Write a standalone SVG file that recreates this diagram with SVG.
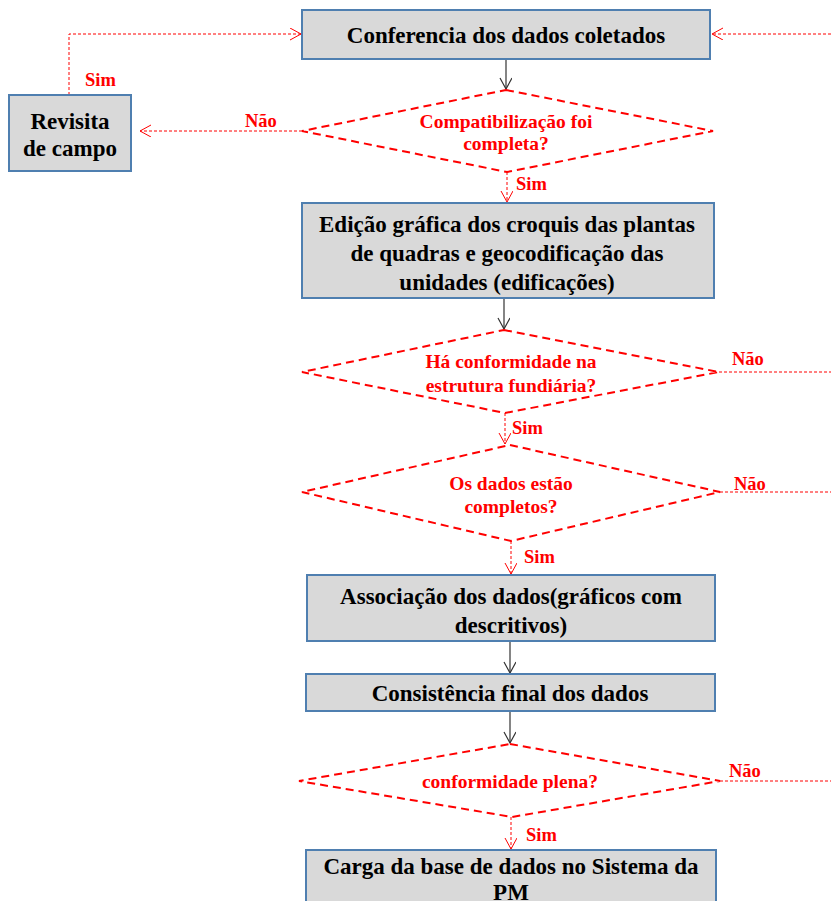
<svg xmlns="http://www.w3.org/2000/svg" width="831" height="901" viewBox="0 0 831 901">
<defs>
<style>
.box{fill:#d9d9d9;stroke:#4f7fb0;stroke-width:2}
.dia{fill:none;stroke:#ff0000;stroke-width:2;stroke-dasharray:8,5}
.bt{font-family:"Liberation Serif",serif;font-weight:bold;font-size:23px;fill:#000;text-anchor:middle}
.dt{font-family:"Liberation Serif",serif;font-weight:bold;font-size:19.5px;fill:#ff0000;text-anchor:middle}
.lb{font-family:"Liberation Serif",serif;font-weight:bold;font-size:18.5px;fill:#ff0000}
.solid{stroke:#333;stroke-width:1.2;fill:none}
.dash{stroke:#ff0000;stroke-width:1;stroke-dasharray:3,2;fill:none}
</style>
<marker id="ab" markerUnits="userSpaceOnUse" markerWidth="14" markerHeight="14" refX="12" refY="6" orient="auto"><path d="M1,0 L12,6 L1,12" fill="none" stroke="#333" stroke-width="1.2"/></marker>
<marker id="ar" markerUnits="userSpaceOnUse" markerWidth="14" markerHeight="14" refX="12" refY="6" orient="auto"><path d="M1,0 L12,6 L1,12" fill="none" stroke="#ff0000" stroke-width="1"/></marker>
</defs>

<g id="connectors">
<path class="solid" d="M506,59 V89" marker-end="url(#ab)"/>
<path class="dash" d="M69,95 V34 H301" marker-end="url(#ar)"/>
<path class="dash" d="M831,34 H712" marker-end="url(#ar)"/>
<path class="dash" d="M302,131 H140" marker-end="url(#ar)"/>
<path class="dash" d="M507,172 V202" marker-end="url(#ar)"/>
<path class="solid" d="M504,298 V329" marker-end="url(#ab)"/>
<path class="dash" d="M719,372 H831"/>
<path class="dash" d="M505,413 V444" marker-end="url(#ar)"/>
<path class="dash" d="M720,492 H831"/>
<path class="dash" d="M511,541 V574" marker-end="url(#ar)"/>
<path class="solid" d="M510,641 V673" marker-end="url(#ab)"/>
<path class="solid" d="M510,711 V743" marker-end="url(#ab)"/>
<path class="dash" d="M720,781 H831"/>
<path class="dash" d="M511,817 V849" marker-end="url(#ar)"/>
<text class="lb" x="85" y="86">Sim</text>
<text class="lb" x="245" y="127">Não</text>
<text class="lb" x="516" y="190">Sim</text>
<text class="lb" x="732" y="365">Não</text>
<text class="lb" x="512" y="434">Sim</text>
<text class="lb" x="734" y="490">Não</text>
<text class="lb" x="524" y="563">Sim</text>
<text class="lb" x="729" y="777">Não</text>
<text class="lb" x="526" y="841">Sim</text>
</g>

<g id="n1">
<rect class="box" x="302" y="10" width="408" height="49"/>
<text class="bt" x="506" y="43">Conferencia dos dados coletados</text>
</g>
<g id="n2">
<polygon class="dia" points="506,90 713,131 507,172 302,131"/>
<text class="dt" x="506" y="128">Compatibilização foi</text>
<text class="dt" x="506" y="150">completa?</text>
</g>
<g id="n3">
<rect class="box" x="9" y="95" width="122" height="76"/>
<text class="bt" x="70" y="129">Revisita</text>
<text class="bt" x="70" y="156">de campo</text>
</g>
<g id="n4">
<rect class="box" x="302" y="203" width="412" height="95"/>
<text class="bt" x="507" y="232">Edição gráfica dos croquis das plantas</text>
<text class="bt" x="507" y="261">de quadras e geocodificação das</text>
<text class="bt" x="507" y="290">unidades (edificações)</text>
</g>
<g id="n5">
<polygon class="dia" points="504,330 719,372 505,413 302,372"/>
<text class="dt" x="511" y="368">Há conformidade na</text>
<text class="dt" x="511" y="392">estrutura fundiária?</text>
</g>
<g id="n6">
<polygon class="dia" points="510,445 720,492 511,541 302,492"/>
<text class="dt" x="511" y="490">Os dados estão</text>
<text class="dt" x="511" y="513">completos?</text>
</g>
<g id="n7">
<rect class="box" x="307" y="575" width="408" height="66"/>
<text class="bt" x="511" y="604">Associação dos dados(gráficos com</text>
<text class="bt" x="511" y="633">descritivos)</text>
</g>
<g id="n8">
<rect class="box" x="306" y="674" width="409" height="37"/>
<text class="bt" x="510" y="701">Consistência final dos dados</text>
</g>
<g id="n9">
<polygon class="dia" points="510,744 720,781 512,817 299,781"/>
<text class="dt" x="510" y="788">conformidade plena?</text>
</g>
<g id="n10">
<rect class="box" x="306" y="850" width="410" height="60"/>
<text class="bt" x="511" y="874">Carga da base de dados no Sistema da</text>
<text class="bt" x="511" y="900">PM</text>
</g>
</svg>
